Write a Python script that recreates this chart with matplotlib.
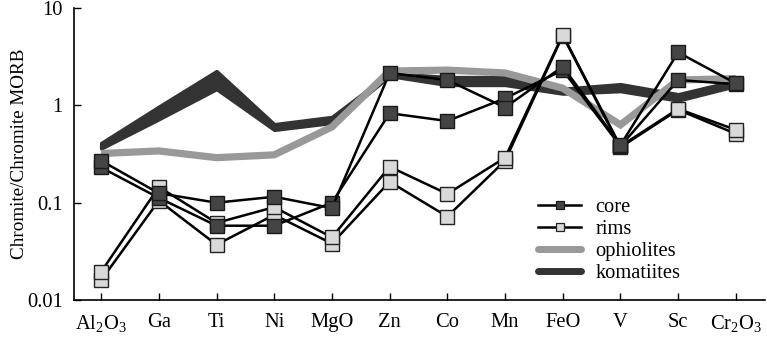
import matplotlib
matplotlib.use("Agg")
import matplotlib.pyplot as plt
from matplotlib.lines import Line2D
from matplotlib.ticker import FixedLocator, NullLocator

plt.rcParams['font.family'] = ['Liberation Serif', 'DejaVu Serif']
plt.rcParams['mathtext.fontset'] = 'custom'
plt.rcParams['mathtext.rm'] = 'Liberation Serif'
plt.rcParams['mathtext.it'] = 'Liberation Serif:italic'

categories = ['Al$_2$O$_3$', 'Ga', 'Ti', 'Ni', 'MgO', 'Zn', 'Co', 'Mn', 'FeO', 'V', 'Sc', 'Cr$_2$O$_3$']

core1 = [0.27, 0.125, 0.10, 0.115, 0.088, 2.15, 1.82, 0.95, 2.5, 0.39, 3.5, 1.68]
core2 = [0.23, 0.112, 0.058, 0.058, 0.10, 0.83, 0.69, 1.18, 2.3, 0.38, 1.82, 1.65]
rim1 = [0.0195, 0.145, 0.062, 0.090, 0.044, 0.234, 0.123, 0.29, 5.3, 0.38, 0.92, 0.56]
rim2 = [0.016, 0.105, 0.037, 0.075, 0.038, 0.164, 0.072, 0.27, 5.2, 0.37, 0.90, 0.51]

ophiolites = [0.32, 0.34, 0.29, 0.31, 0.60, 2.25, 2.3, 2.15, 1.5, 0.63, 1.82, 1.88]
komatiites_upper = [0.41, 0.97, 2.25, 0.64, 0.76, 2.15, 1.95, 1.95, 1.48, 1.65, 1.30, 1.80]
komatiites_lower = [0.36, 0.72, 1.47, 0.56, 0.66, 2.0, 1.62, 1.62, 1.32, 1.40, 1.12, 1.58]

ytick_vals = [0.01, 0.1, 1, 10]
ytick_labels = ['0.01', '0.1', '1', '10']

x = list(range(len(categories)))

fig = plt.figure(figsize=(7.67, 3.40), dpi=100)
ax = fig.add_axes([0.0965, 0.1176, 0.9005, 0.8589])

kom_col = '#333333'
oph_col = '#999999'
ax.fill_between(x, komatiites_lower, komatiites_upper, color=kom_col,
                edgecolor=kom_col, linewidth=2.5, joinstyle='round', zorder=1)
ax.plot(x, ophiolites, color=oph_col, linewidth=5.2, solid_joinstyle='miter',
        solid_capstyle='butt', zorder=2)

ms = 9.5
lw = 1.8
for series in (rim2, rim1):
    ax.plot(x, series, color='black', linewidth=lw, marker='s', markersize=ms,
            markerfacecolor='#d9d9d9', markeredgecolor='#222222', markeredgewidth=1.0, zorder=3)
for series in (core2, core1):
    ax.plot(x, series, color='black', linewidth=lw, marker='s', markersize=ms,
            markerfacecolor='#444444', markeredgecolor='#1a1a1a', markeredgewidth=1.0, zorder=4)

ax.set_yscale('log')
ax.set_ylim(0.01, 10)
ax.set_xlim(-0.47, 11.5)
ax.yaxis.set_major_locator(FixedLocator(ytick_vals))
ax.yaxis.set_minor_locator(NullLocator())
ax.set_yticklabels(ytick_labels)
ax.set_xticks(x)
ax.set_xticklabels(categories)

for s in ('top', 'right'):
    ax.spines[s].set_visible(False)
for s in ('left', 'bottom'):
    ax.spines[s].set_linewidth(1.2)

fs = 14.8
ax.tick_params(axis='both', direction='in', length=5, width=1.0, labelsize=fs)
ax.tick_params(axis='y', pad=8)
ax.tick_params(axis='x', pad=9)
ax.set_ylabel('Chromite/Chromite MORB', fontsize=13.8)
ax.yaxis.set_label_coords(-0.067, 0.5)

handles = [
    Line2D([], [], color='black', linewidth=lw, marker='s', markersize=6,
           markerfacecolor='#444444', markeredgecolor='#1a1a1a', markeredgewidth=0.9),
    Line2D([], [], color='black', linewidth=lw, marker='s', markersize=6,
           markerfacecolor='#d9d9d9', markeredgecolor='#222222', markeredgewidth=0.9),
    Line2D([], [], color=oph_col, linewidth=5, solid_capstyle='round'),
    Line2D([], [], color=kom_col, linewidth=5, solid_capstyle='round'),
]
labels = ['core', 'rims', 'ophiolites', 'komatiites']
ax.legend(handles, labels, loc='upper left', bbox_to_anchor=(0.672, 0.35),
          frameon=False, fontsize=fs, handlelength=2.1, handletextpad=0.7,
          labelspacing=0.12, borderaxespad=0, borderpad=0)

fig.savefig('out.png', dpi=100)
